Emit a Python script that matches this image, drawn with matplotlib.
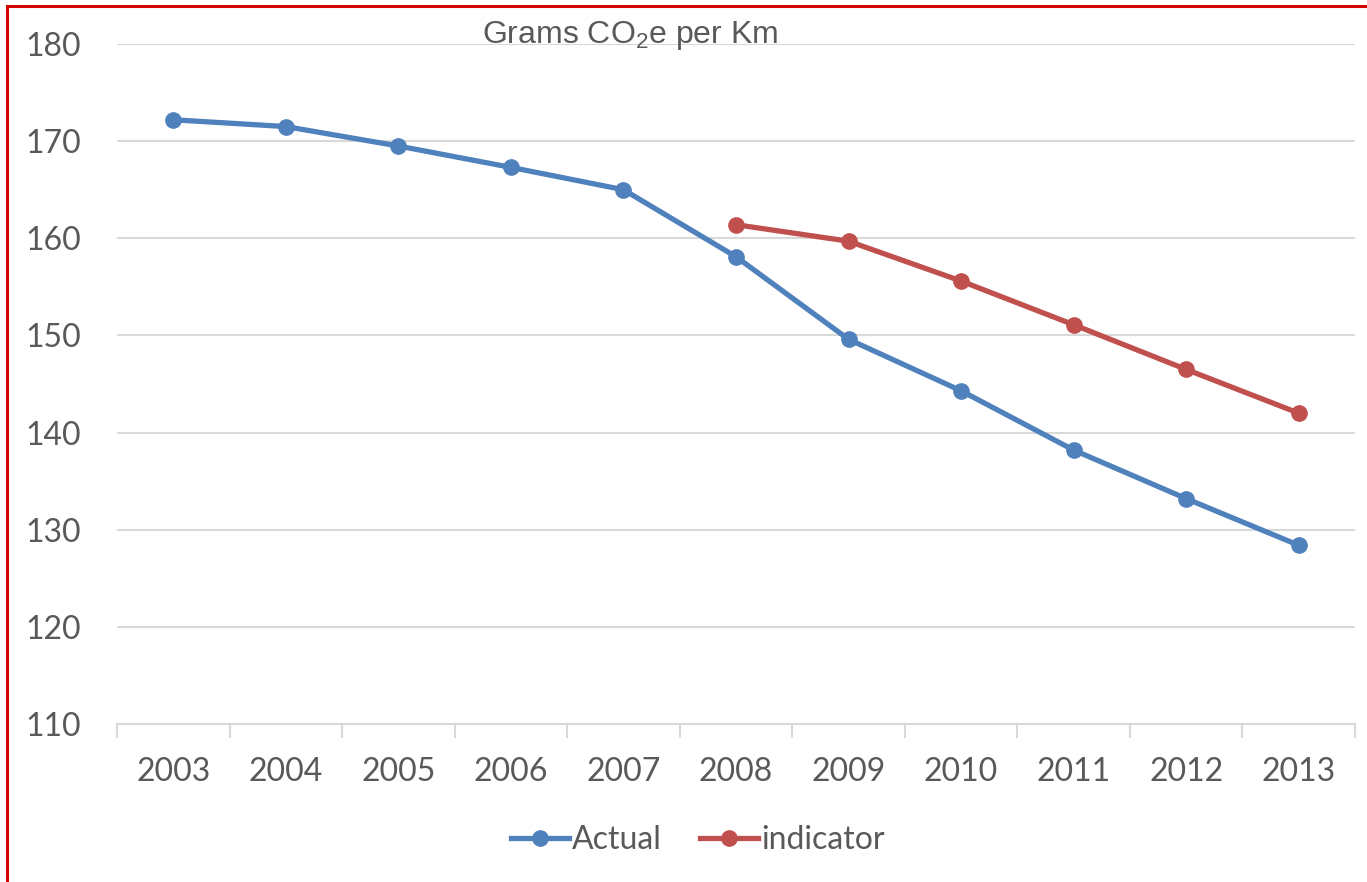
import matplotlib
matplotlib.use("Agg")
import matplotlib.pyplot as plt
from matplotlib.lines import Line2D

plt.rcParams["mathtext.fontset"] = "custom"
plt.rcParams["mathtext.rm"] = "Liberation Sans"
plt.rcParams["mathtext.it"] = "Liberation Sans:italic"

years = ["2003", "2004", "2005", "2006", "2007", "2008", "2009", "2010", "2011", "2012", "2013"]
actual = [172.2, 171.5, 169.5, 167.3, 165.0, 158.1, 149.6, 144.3, 138.2, 133.2, 128.4]
indicator_years = ["2008", "2009", "2010", "2011", "2012", "2013"]
indicator = [161.4, 159.7, 155.6, 151.1, 146.5, 142.0]

BLUE = "#4F81BD"
RED = "#C0504D"
GREY = "#595959"
GRID = "#D9D9D9"

fig = plt.figure(figsize=(13.67, 8.82), dpi=100)
W, H = 1367, 882
ax = fig.add_axes([117 / W, 1 - 724 / H, (1355 - 117) / W, (724 - 44) / H])

xa = list(range(len(years)))
xi = [years.index(y) for y in indicator_years]
ax.plot(xa, actual, color=BLUE, lw=3.8, marker="o", ms=11, solid_capstyle="round", zorder=3)
ax.plot(xi, indicator, color=RED, lw=3.8, marker="o", ms=11, solid_capstyle="round", zorder=3)

ax.set_xlim(-0.5, len(years) - 0.5)
ax.set_ylim(110, 180)
ax.set_yticks(range(110, 181, 10))
ax.yaxis.grid(True, color=GRID, lw=1.5)
ax.set_axisbelow(True)
for s in ["top", "right", "left"]:
    ax.spines[s].set_visible(False)
ax.spines["bottom"].set_color(GRID)
ax.spines["bottom"].set_linewidth(1.5)

ax.set_xticks([i - 0.5 for i in range(len(years) + 1)], minor=False)
ax.set_xticklabels([])
ax.tick_params(axis="x", which="major", length=10, width=1.5, color=GRID, direction="out")
ax.set_xticks(xa, minor=True)
ax.set_xticklabels(years, minor=True, fontsize=23, color=GREY, family="Lato")
ax.tick_params(axis="x", which="minor", length=0, pad=24)
ax.tick_params(axis="y", length=0, pad=26, labelsize=23, labelcolor=GREY)
for lab in ax.get_yticklabels():
    lab.set_family("Lato")

fig.text(630 / W, 1 - 35 / H, r"Grams CO$_2$e per Km", ha="center", va="center",
         fontsize=23, color=GREY, family="Liberation Sans")

handles = [Line2D([], [], color=BLUE, lw=3.8, marker="o", ms=11),
           Line2D([], [], color=RED, lw=3.8, marker="o", ms=11)]
leg = fig.legend(handles, ["Actual", "indicator"], loc="center", bbox_to_anchor=(698 / W, 1 - 840 / H),
                 ncol=2, frameon=False, handlelength=1.8, handletextpad=0.1, columnspacing=1.2,
                 prop={"family": "Lato", "size": 23})
for t in leg.get_texts():
    t.set_color(GREY)

# red border
fig.add_artist(Line2D([7 / W, 7 / W], [0, 1 - 6 / H], color="#D00000", lw=2.2, transform=fig.transFigure))
fig.add_artist(Line2D([7 / W, 1], [1 - 6 / H, 1 - 6 / H], color="#D00000", lw=2.2, transform=fig.transFigure))

fig.savefig("out.png", dpi=100)
